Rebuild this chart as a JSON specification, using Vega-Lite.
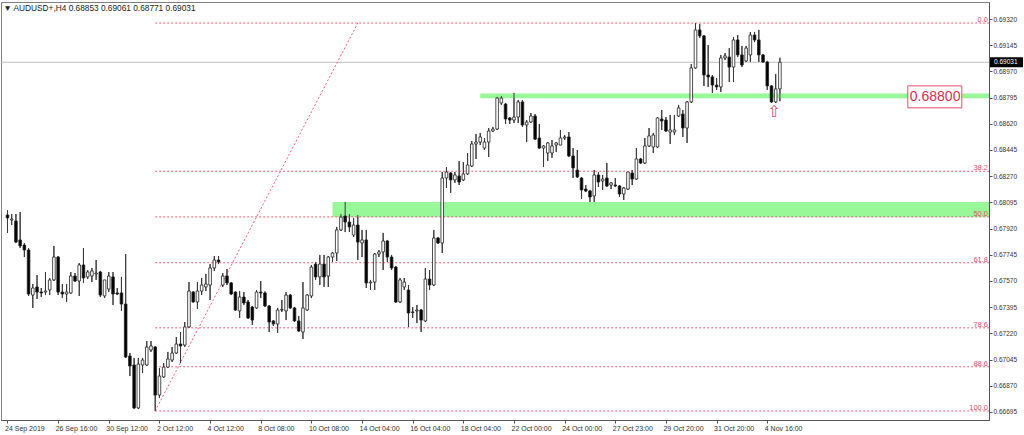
{
"$schema": "https://vega.github.io/schema/vega-lite/v6.json",
"width": 988, "height": 418,
"autosize": {"type": "none"},
"padding": {"left": 1, "top": 2, "right": 35, "bottom": 15},
"background": "white",
"config": {"view": {"stroke": "#808080", "strokeWidth": 1}, "font": "Liberation Sans", "axis": {"grid": false, "labelOverlap": false, "labelFlush": false}},
"title": {"text": "▼ AUDUSD+,H4  0.68853 0.69061 0.68771 0.69031", "anchor": "start", "orient": "top", "offset": -10, "fontSize": 8.3, "fontWeight": "normal", "color": "#222", "dx": 3, "font": "Liberation Sans"},
"datasets": {
"candles": [
{"i":0,"o":0.68011,"h":0.68044,"l":0.67891,"c":0.67991},
{"i":1,"o":0.67977,"h":0.68017,"l":0.67944,"c":0.67984},
{"i":2,"o":0.67971,"h":0.68017,"l":0.67824,"c":0.67830},
{"i":3,"o":0.67844,"h":0.68031,"l":0.67790,"c":0.67804},
{"i":4,"o":0.67810,"h":0.67824,"l":0.67730,"c":0.67777},
{"i":5,"o":0.67777,"h":0.67790,"l":0.67470,"c":0.67483},
{"i":6,"o":0.67476,"h":0.67550,"l":0.67390,"c":0.67523},
{"i":7,"o":0.67530,"h":0.67610,"l":0.67450,"c":0.67496},
{"i":8,"o":0.67496,"h":0.67523,"l":0.67463,"c":0.67490},
{"i":9,"o":0.67496,"h":0.67630,"l":0.67476,"c":0.67503},
{"i":10,"o":0.67510,"h":0.67590,"l":0.67476,"c":0.67577},
{"i":11,"o":0.67577,"h":0.67804,"l":0.67570,"c":0.67730},
{"i":12,"o":0.67730,"h":0.67737,"l":0.67476,"c":0.67496},
{"i":13,"o":0.67496,"h":0.67550,"l":0.67456,"c":0.67483},
{"i":14,"o":0.67483,"h":0.67550,"l":0.67430,"c":0.67496},
{"i":15,"o":0.67490,"h":0.67630,"l":0.67483,"c":0.67603},
{"i":16,"o":0.67603,"h":0.67623,"l":0.67563,"c":0.67570},
{"i":17,"o":0.67570,"h":0.67690,"l":0.67470,"c":0.67677},
{"i":18,"o":0.67677,"h":0.67790,"l":0.67557,"c":0.67590},
{"i":19,"o":0.67597,"h":0.67643,"l":0.67583,"c":0.67630},
{"i":20,"o":0.67603,"h":0.67657,"l":0.67563,"c":0.67637},
{"i":21,"o":0.67617,"h":0.67710,"l":0.67577,"c":0.67623},
{"i":22,"o":0.67630,"h":0.67637,"l":0.67463,"c":0.67476},
{"i":23,"o":0.67470,"h":0.67577,"l":0.67456,"c":0.67577},
{"i":24,"o":0.67516,"h":0.67630,"l":0.67496,"c":0.67603},
{"i":25,"o":0.67597,"h":0.67630,"l":0.67410,"c":0.67483},
{"i":26,"o":0.67490,"h":0.67523,"l":0.67476,"c":0.67483},
{"i":27,"o":0.67490,"h":0.67597,"l":0.67370,"c":0.67416},
{"i":28,"o":0.67416,"h":0.67750,"l":0.67056,"c":0.67062},
{"i":29,"o":0.67069,"h":0.67089,"l":0.66935,"c":0.67002},
{"i":30,"o":0.67009,"h":0.67056,"l":0.66715,"c":0.66722},
{"i":31,"o":0.66722,"h":0.67056,"l":0.66715,"c":0.67015},
{"i":32,"o":0.67009,"h":0.67056,"l":0.66955,"c":0.67042},
{"i":33,"o":0.67009,"h":0.67169,"l":0.67002,"c":0.67129},
{"i":34,"o":0.67109,"h":0.67169,"l":0.67096,"c":0.67136},
{"i":35,"o":0.67129,"h":0.67136,"l":0.66702,"c":0.66808},
{"i":36,"o":0.66808,"h":0.66989,"l":0.66788,"c":0.66935},
{"i":37,"o":0.66929,"h":0.67022,"l":0.66922,"c":0.66995},
{"i":38,"o":0.66995,"h":0.67096,"l":0.66989,"c":0.67049},
{"i":39,"o":0.67042,"h":0.67129,"l":0.67029,"c":0.67089},
{"i":40,"o":0.67089,"h":0.67196,"l":0.67082,"c":0.67149},
{"i":41,"o":0.67149,"h":0.67229,"l":0.67022,"c":0.67136},
{"i":42,"o":0.67142,"h":0.67296,"l":0.67129,"c":0.67263},
{"i":43,"o":0.67263,"h":0.67563,"l":0.67256,"c":0.67503},
{"i":44,"o":0.67496,"h":0.67503,"l":0.67425,"c":0.67430},
{"i":45,"o":0.67430,"h":0.67563,"l":0.67383,"c":0.67503},
{"i":46,"o":0.67503,"h":0.67590,"l":0.67476,"c":0.67543},
{"i":47,"o":0.67530,"h":0.67617,"l":0.67503,"c":0.67550},
{"i":48,"o":0.67543,"h":0.67683,"l":0.67443,"c":0.67657},
{"i":49,"o":0.67657,"h":0.67737,"l":0.67637,"c":0.67710},
{"i":50,"o":0.67710,"h":0.67737,"l":0.67683,"c":0.67697},
{"i":51,"o":0.67543,"h":0.67623,"l":0.67530,"c":0.67603},
{"i":52,"o":0.67603,"h":0.67650,"l":0.67543,"c":0.67557},
{"i":53,"o":0.67557,"h":0.67563,"l":0.67476,"c":0.67483},
{"i":54,"o":0.67496,"h":0.67500,"l":0.67370,"c":0.67376},
{"i":55,"o":0.67370,"h":0.67503,"l":0.67323,"c":0.67463},
{"i":56,"o":0.67463,"h":0.67496,"l":0.67410,"c":0.67423},
{"i":57,"o":0.67430,"h":0.67443,"l":0.67316,"c":0.67323},
{"i":58,"o":0.67396,"h":0.67403,"l":0.67276,"c":0.67309},
{"i":59,"o":0.67390,"h":0.67510,"l":0.67383,"c":0.67496},
{"i":60,"o":0.67496,"h":0.67570,"l":0.67456,"c":0.67490},
{"i":61,"o":0.67490,"h":0.67500,"l":0.67396,"c":0.67403},
{"i":62,"o":0.67403,"h":0.67410,"l":0.67229,"c":0.67296},
{"i":63,"o":0.67303,"h":0.67309,"l":0.67269,"c":0.67283},
{"i":64,"o":0.67283,"h":0.67390,"l":0.67223,"c":0.67376},
{"i":65,"o":0.67376,"h":0.67443,"l":0.67363,"c":0.67380},
{"i":66,"o":0.67370,"h":0.67496,"l":0.67309,"c":0.67476},
{"i":67,"o":0.67476,"h":0.67483,"l":0.67383,"c":0.67390},
{"i":68,"o":0.67390,"h":0.67396,"l":0.67296,"c":0.67303},
{"i":69,"o":0.67303,"h":0.67336,"l":0.67229,"c":0.67236},
{"i":70,"o":0.67229,"h":0.67563,"l":0.67182,"c":0.67390},
{"i":71,"o":0.67376,"h":0.67483,"l":0.67370,"c":0.67476},
{"i":72,"o":0.67470,"h":0.67677,"l":0.67456,"c":0.67663},
{"i":73,"o":0.67683,"h":0.67697,"l":0.67577,"c":0.67597},
{"i":74,"o":0.67597,"h":0.67744,"l":0.67543,"c":0.67683},
{"i":75,"o":0.67683,"h":0.67744,"l":0.67530,"c":0.67597},
{"i":76,"o":0.67603,"h":0.67737,"l":0.67530,"c":0.67730},
{"i":77,"o":0.67730,"h":0.67764,"l":0.67697,"c":0.67757},
{"i":78,"o":0.67757,"h":0.67931,"l":0.67704,"c":0.67911},
{"i":79,"o":0.67911,"h":0.68017,"l":0.67904,"c":0.67997},
{"i":80,"o":0.68004,"h":0.68098,"l":0.67897,"c":0.67964},
{"i":81,"o":0.67964,"h":0.68017,"l":0.67897,"c":0.67931},
{"i":82,"o":0.67877,"h":0.67991,"l":0.67864,"c":0.67944},
{"i":83,"o":0.67944,"h":0.68011,"l":0.67710,"c":0.67830},
{"i":84,"o":0.67824,"h":0.67911,"l":0.67730,"c":0.67844},
{"i":85,"o":0.67844,"h":0.67911,"l":0.67523,"c":0.67557},
{"i":86,"o":0.67557,"h":0.67577,"l":0.67510,"c":0.67563},
{"i":87,"o":0.67563,"h":0.67757,"l":0.67510,"c":0.67750},
{"i":88,"o":0.67750,"h":0.67777,"l":0.67730,"c":0.67764},
{"i":89,"o":0.67764,"h":0.67891,"l":0.67643,"c":0.67837},
{"i":90,"o":0.67837,"h":0.67844,"l":0.67697,"c":0.67730},
{"i":91,"o":0.67730,"h":0.67744,"l":0.67643,"c":0.67657},
{"i":92,"o":0.67663,"h":0.67670,"l":0.67423,"c":0.67430},
{"i":93,"o":0.67430,"h":0.67590,"l":0.67423,"c":0.67577},
{"i":94,"o":0.67530,"h":0.67590,"l":0.67510,"c":0.67563},
{"i":95,"o":0.67510,"h":0.67543,"l":0.67263,"c":0.67356},
{"i":96,"o":0.67363,"h":0.67396,"l":0.67323,"c":0.67360},
{"i":97,"o":0.67370,"h":0.67410,"l":0.67289,"c":0.67376},
{"i":98,"o":0.67376,"h":0.67383,"l":0.67229,"c":0.67309},
{"i":99,"o":0.67303,"h":0.67657,"l":0.67296,"c":0.67583},
{"i":100,"o":0.67583,"h":0.67643,"l":0.67510,"c":0.67543},
{"i":101,"o":0.67543,"h":0.67911,"l":0.67537,"c":0.67857},
{"i":102,"o":0.67857,"h":0.67864,"l":0.67817,"c":0.67824},
{"i":103,"o":0.67824,"h":0.68298,"l":0.67757,"c":0.68258},
{"i":104,"o":0.68258,"h":0.68331,"l":0.68191,"c":0.68298},
{"i":105,"o":0.68291,"h":0.68298,"l":0.68158,"c":0.68245},
{"i":106,"o":0.68245,"h":0.68298,"l":0.68225,"c":0.68278},
{"i":107,"o":0.68271,"h":0.68372,"l":0.68211,"c":0.68231},
{"i":108,"o":0.68245,"h":0.68365,"l":0.68238,"c":0.68285},
{"i":109,"o":0.68285,"h":0.68425,"l":0.68278,"c":0.68345},
{"i":110,"o":0.68338,"h":0.68505,"l":0.68331,"c":0.68485},
{"i":111,"o":0.68485,"h":0.68552,"l":0.68385,"c":0.68498},
{"i":112,"o":0.68498,"h":0.68559,"l":0.68478,"c":0.68532},
{"i":113,"o":0.68458,"h":0.68525,"l":0.68445,"c":0.68498},
{"i":114,"o":0.68498,"h":0.68592,"l":0.68398,"c":0.68572},
{"i":115,"o":0.68572,"h":0.68599,"l":0.68565,"c":0.68585},
{"i":116,"o":0.68585,"h":0.68800,"l":0.68579,"c":0.68792},
{"i":117,"o":0.68759,"h":0.68806,"l":0.68746,"c":0.68792},
{"i":118,"o":0.68752,"h":0.68759,"l":0.68619,"c":0.68652},
{"i":119,"o":0.68659,"h":0.68665,"l":0.68619,"c":0.68645},
{"i":120,"o":0.68645,"h":0.68826,"l":0.68625,"c":0.68665},
{"i":121,"o":0.68665,"h":0.68779,"l":0.68625,"c":0.68766},
{"i":122,"o":0.68766,"h":0.68779,"l":0.68599,"c":0.68612},
{"i":123,"o":0.68612,"h":0.68645,"l":0.68498,"c":0.68632},
{"i":124,"o":0.68632,"h":0.68692,"l":0.68625,"c":0.68672},
{"i":125,"o":0.68672,"h":0.68685,"l":0.68512,"c":0.68518},
{"i":126,"o":0.68525,"h":0.68619,"l":0.68452,"c":0.68458},
{"i":127,"o":0.68458,"h":0.68478,"l":0.68331,"c":0.68472},
{"i":128,"o":0.68425,"h":0.68498,"l":0.68372,"c":0.68492},
{"i":129,"o":0.68425,"h":0.68512,"l":0.68392,"c":0.68472},
{"i":130,"o":0.68478,"h":0.68498,"l":0.68432,"c":0.68492},
{"i":131,"o":0.68478,"h":0.68579,"l":0.68478,"c":0.68525},
{"i":132,"o":0.68525,"h":0.68545,"l":0.68512,"c":0.68532},
{"i":133,"o":0.68532,"h":0.68565,"l":0.68398,"c":0.68405},
{"i":134,"o":0.68405,"h":0.68458,"l":0.68258,"c":0.68325},
{"i":135,"o":0.68311,"h":0.68445,"l":0.68258,"c":0.68265},
{"i":136,"o":0.68258,"h":0.68265,"l":0.68118,"c":0.68178},
{"i":137,"o":0.68184,"h":0.68211,"l":0.68164,"c":0.68171},
{"i":138,"o":0.68171,"h":0.68178,"l":0.68098,"c":0.68131},
{"i":139,"o":0.68138,"h":0.68311,"l":0.68098,"c":0.68278},
{"i":140,"o":0.68278,"h":0.68298,"l":0.68198,"c":0.68231},
{"i":141,"o":0.68238,"h":0.68278,"l":0.68178,"c":0.68251},
{"i":142,"o":0.68258,"h":0.68358,"l":0.68198,"c":0.68205},
{"i":143,"o":0.68211,"h":0.68231,"l":0.68184,"c":0.68225},
{"i":144,"o":0.68211,"h":0.68258,"l":0.68198,"c":0.68205},
{"i":145,"o":0.68205,"h":0.68211,"l":0.68131,"c":0.68151},
{"i":146,"o":0.68151,"h":0.68198,"l":0.68111,"c":0.68191},
{"i":147,"o":0.68184,"h":0.68298,"l":0.68178,"c":0.68298},
{"i":148,"o":0.68291,"h":0.68311,"l":0.68211,"c":0.68251},
{"i":149,"o":0.68251,"h":0.68458,"l":0.68245,"c":0.68385},
{"i":150,"o":0.68385,"h":0.68392,"l":0.68351,"c":0.68358},
{"i":151,"o":0.68358,"h":0.68525,"l":0.68351,"c":0.68472},
{"i":152,"o":0.68472,"h":0.68592,"l":0.68465,"c":0.68539},
{"i":153,"o":0.68465,"h":0.68559,"l":0.68425,"c":0.68545},
{"i":154,"o":0.68465,"h":0.68665,"l":0.68458,"c":0.68659},
{"i":155,"o":0.68652,"h":0.68712,"l":0.68579,"c":0.68639},
{"i":156,"o":0.68645,"h":0.68665,"l":0.68565,"c":0.68572},
{"i":157,"o":0.68565,"h":0.68679,"l":0.68485,"c":0.68579},
{"i":158,"o":0.68565,"h":0.68679,"l":0.68545,"c":0.68579},
{"i":159,"o":0.68672,"h":0.68746,"l":0.68665,"c":0.68726},
{"i":160,"o":0.68685,"h":0.68712,"l":0.68532,"c":0.68592},
{"i":161,"o":0.68592,"h":0.68772,"l":0.68492,"c":0.68766},
{"i":162,"o":0.68766,"h":0.69019,"l":0.68759,"c":0.68993},
{"i":163,"o":0.68993,"h":0.69293,"l":0.68986,"c":0.69247},
{"i":164,"o":0.69247,"h":0.69286,"l":0.69193,"c":0.69207},
{"i":165,"o":0.69207,"h":0.69213,"l":0.68873,"c":0.68946},
{"i":166,"o":0.68946,"h":0.69146,"l":0.68866,"c":0.68933},
{"i":167,"o":0.68933,"h":0.68946,"l":0.68826,"c":0.68879},
{"i":168,"o":0.68879,"h":0.68926,"l":0.68846,"c":0.68866},
{"i":169,"o":0.68866,"h":0.69080,"l":0.68832,"c":0.69060},
{"i":170,"o":0.69060,"h":0.69093,"l":0.69046,"c":0.69073},
{"i":171,"o":0.69066,"h":0.69126,"l":0.68899,"c":0.68999},
{"i":172,"o":0.68999,"h":0.69200,"l":0.68899,"c":0.69180},
{"i":173,"o":0.69180,"h":0.69213,"l":0.69066,"c":0.69080},
{"i":174,"o":0.69080,"h":0.69140,"l":0.68999,"c":0.69013},
{"i":175,"o":0.69040,"h":0.69140,"l":0.69033,"c":0.69126},
{"i":176,"o":0.69080,"h":0.69233,"l":0.69033,"c":0.69213},
{"i":177,"o":0.69213,"h":0.69233,"l":0.69166,"c":0.69180},
{"i":178,"o":0.69180,"h":0.69247,"l":0.69033,"c":0.69080},
{"i":179,"o":0.69080,"h":0.69086,"l":0.69026,"c":0.69033},
{"i":180,"o":0.69033,"h":0.69040,"l":0.68846,"c":0.68873},
{"i":181,"o":0.68873,"h":0.68879,"l":0.68759,"c":0.68766},
{"i":182,"o":0.68766,"h":0.68953,"l":0.68759,"c":0.68853},
{"i":183,"o":0.68853,"h":0.69061,"l":0.68771,"c":0.69031}
],
"fib": [
{"level":"0.0","price":0.69293,"from":35},
{"level":"38.2","price":0.68303,"from":35},
{"level":"50.0","price":0.67998,"from":35},
{"level":"61.8","price":0.67692,"from":35},
{"level":"78.6","price":0.67257,"from":35},
{"level":"88.6","price":0.66997,"from":35},
{"level":"100.0","price":0.66702,"from":35}
],
"zones": [
{"from":112,"lo":0.68790,"hi":0.68822},
{"from":77,"lo":0.67997,"hi":0.68098}
],
"trend": [{"i1":35,"p1":0.66702,"i2":83,"p2":0.69293}],
"last": [{"price":0.69031,"label":"0.69031"}],
"plabel": [{"i":213.3,"price":0.68800,"label":"0.68800"}],
"arrow": [{"i":181.6,"price":0.68699,"sym":"⇧"}]
},
"layer": [
{"data":{"name":"candles"},"mark":{"type":"rule","color":"#3a3a3a","strokeWidth":1},
 "encoding":{
  "x":{"field":"i","type":"quantitative","title":null,"scale":{"domain":[-0.352,231.35],"nice":false,"zero":false},
   "axis":{"title":null,"orient":"bottom","values":[0,12,24,36,48,60,72,84,96,108,120,132,144,156,168,180],"tickCount":40,
    "labelExpr":"['24 Sep 2019','26 Sep 16:00','30 Sep 12:00','2 Oct 12:00','4 Oct 12:00','8 Oct 08:00','10 Oct 08:00','14 Oct 04:00','16 Oct 04:00','18 Oct 04:00','22 Oct 00:00','24 Oct 00:00','27 Oct 23:00','29 Oct 20:00','31 Oct 20:00','4 Nov 16:00'][round(datum.value/12)]",
    "labelAlign":"left","labelBaseline":"top","labelPadding":1,"labelOffset":-3,"labelFontSize":7,"labelFont":"Liberation Sans","labelColor":"#333","labelOverlap":false,"labelFlush":false,
    "tickSize":3,"tickColor":"#555","domainColor":"#555","grid":false}},
  "y":{"field":"l","type":"quantitative","title":null,"scale":{"domain":[0.666414,0.694336],"nice":false,"zero":false},
   "axis":{"title":null,"orient":"right","values":[0.66695,0.6687,0.67045,0.6722,0.67395,0.6757,0.67745,0.6792,0.68095,0.6827,0.68445,0.6862,0.68795,0.6897,0.69145,0.6932],"tickCount":40,
    "format":".5f","labelFontSize":6.5,"labelFont":"Liberation Sans","labelColor":"#333","labelPadding":1,"labelBaseline":"middle","tickSize":3,"tickColor":"#555","domainColor":"#555","grid":false,"labelOverlap":false,"labelFlush":false}},
  "y2":{"field":"h"}}},
{"data":{"name":"zones"},"mark":{"type":"rect","color":"#98f898"},
 "encoding":{"x":{"field":"from","type":"quantitative","title":null},"x2":{"value":"width"},
  "y":{"field":"lo","type":"quantitative","title":null},"y2":{"field":"hi"}}},
{"data":{"name":"last"},"mark":{"type":"rule","color":"#c0c0c0","strokeWidth":1},
 "encoding":{"y":{"field":"price","type":"quantitative","title":null}}},
{"data":{"name":"fib"},"mark":{"type":"rule","color":"#e8627c","strokeWidth":1,"strokeDash":[2,2]},
 "encoding":{"x":{"field":"from","type":"quantitative","title":null},"x2":{"value":"width"},
  "y":{"field":"price","type":"quantitative","title":null}}},
{"data":{"name":"fib"},"mark":{"type":"text","color":"#e0506e","fontSize":7.5,"align":"right","baseline":"bottom","dx":-1,"dy":1,"font":"Liberation Sans"},
 "encoding":{"x":{"value":"width"},"y":{"field":"price","type":"quantitative","title":null},"text":{"field":"level"}}},
{"data":{"name":"trend"},"mark":{"type":"rule","color":"#e8627c","strokeWidth":1,"strokeDash":[2,2]},
 "encoding":{"x":{"field":"i1","type":"quantitative","title":null},"x2":{"field":"i2"},
  "y":{"field":"p1","type":"quantitative","title":null},"y2":{"field":"p2"}}},
{"data":{"name":"candles"},"mark":{"type":"rule","color":"#3a3a3a","strokeWidth":1},
 "encoding":{"x":{"field":"i","type":"quantitative","title":null},
  "y":{"field":"l","type":"quantitative","title":null},"y2":{"field":"h"}}},
{"data":{"name":"candles"},"mark":{"type":"bar","width":2.6,"stroke":"#222","strokeWidth":0.8},
 "encoding":{"x":{"field":"i","type":"quantitative","title":null},
  "y":{"field":"o","type":"quantitative","title":null},"y2":{"field":"c"},
  "fill":{"condition":{"test":"datum.c >= datum.o","value":"white"},"value":"black"}}},
{"data":{"name":"plabel"},"mark":{"type":"rect","fill":"white","stroke":"#e0506e","strokeWidth":1,"yOffset":-11,"y2Offset":11,"x2Offset":54},
 "encoding":{"x":{"field":"i","type":"quantitative","title":null},"x2":{"field":"i"},
  "y":{"field":"price","type":"quantitative","title":null},"y2":{"field":"price"}}},
{"data":{"name":"plabel"},"mark":{"type":"text","color":"#e0304e","fontSize":14,"align":"left","baseline":"middle","dx":2,"font":"Liberation Sans"},
 "encoding":{"x":{"field":"i","type":"quantitative","title":null},
  "y":{"field":"price","type":"quantitative","title":null},"text":{"field":"label"}}},
{"data":{"name":"arrow"},"mark":{"type":"text","color":"#e0506e","fontSize":16,"align":"center","baseline":"middle","font":"DejaVu Sans"},
 "encoding":{"x":{"field":"i","type":"quantitative","title":null},
  "y":{"field":"price","type":"quantitative","title":null},"text":{"field":"sym"}}},
{"data":{"name":"last"},"mark":{"type":"rect","fill":"black","xOffset":1,"x2Offset":34,"yOffset":-5,"y2Offset":5},
 "encoding":{"x":{"value":"width"},"x2":{"value":"width"},
  "y":{"field":"price","type":"quantitative","title":null},"y2":{"field":"price"}}},
{"data":{"name":"last"},"mark":{"type":"text","color":"white","fontSize":6.5,"align":"left","baseline":"middle","dx":5,"font":"Liberation Sans"},
 "encoding":{"x":{"value":"width"},"y":{"field":"price","type":"quantitative","title":null},"text":{"field":"label"}}}
]
}
